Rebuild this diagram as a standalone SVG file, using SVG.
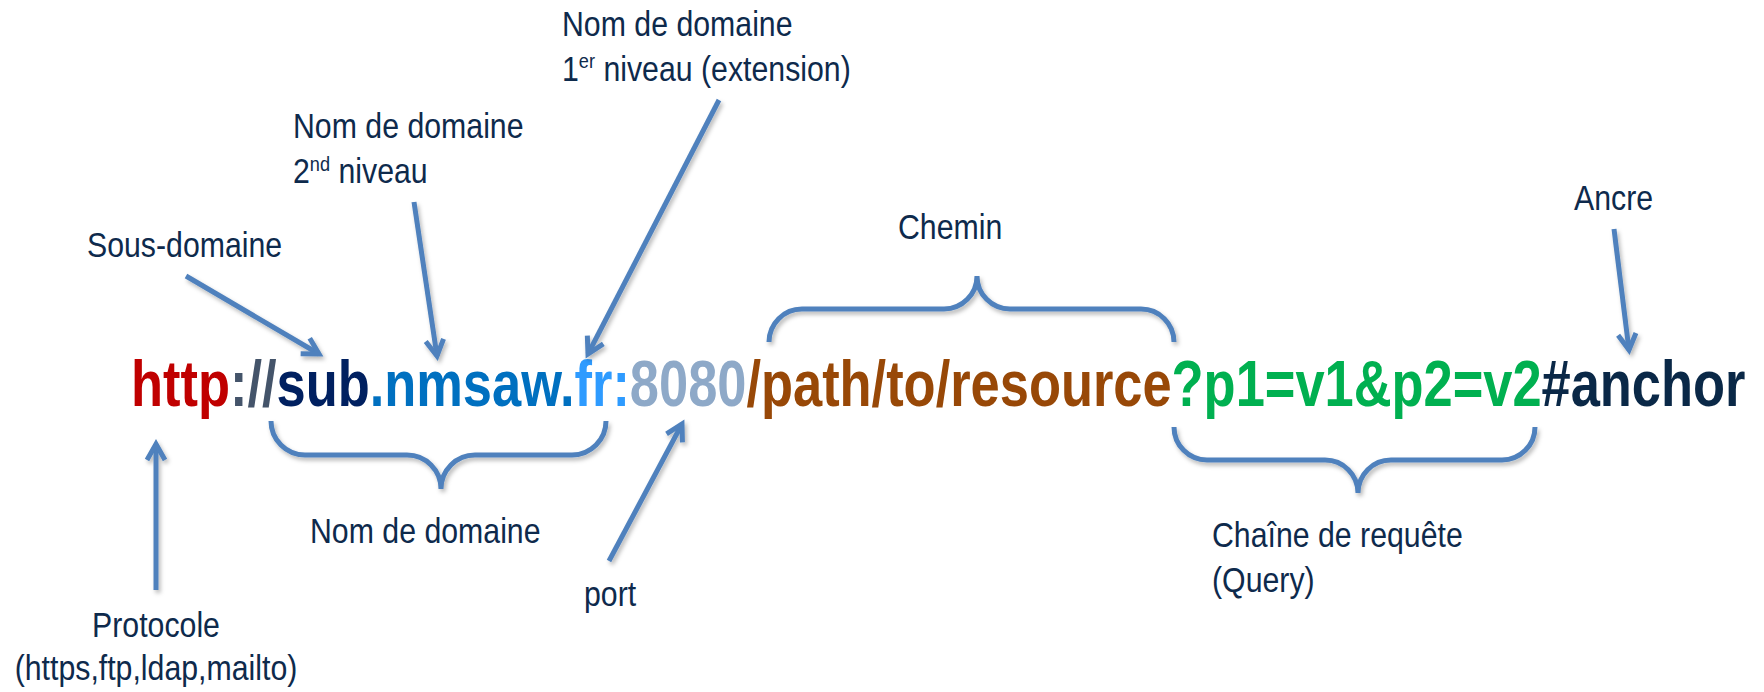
<svg xmlns="http://www.w3.org/2000/svg" width="1764" height="692" viewBox="0 0 1764 692">
<style>
.lbl{font-family:"Liberation Sans",Arial,sans-serif;font-size:35px;fill:#0E2A4C}
.sup{font-size:21px}
.url{font-family:"Liberation Sans",Arial,sans-serif;font-size:64px;font-weight:bold}
.ln{fill:none;stroke:#4F81BD;stroke-width:5}
.arr{marker-end:url(#ah)}
</style>
<defs>
<filter id="sh" x="-10%" y="-10%" width="130%" height="140%">
<feDropShadow dx="2" dy="3" stdDeviation="2" flood-color="#000" flood-opacity="0.28"/>
</filter>
<marker id="ah" markerUnits="userSpaceOnUse" viewBox="0 0 24 24" markerWidth="24" markerHeight="24" refX="20" refY="12" orient="auto" overflow="visible">
<path d="M4,3 L20,12 L4,21" fill="none" stroke="#4F81BD" stroke-width="5"/>
</marker>
</defs>
<rect width="1764" height="692" fill="#fff"/>

<g id="url" transform="translate(131,406) scale(0.819,1)">
<text class="url" x="0" y="0"><tspan fill="#C00000">http</tspan><tspan fill="#44546A">://</tspan><tspan fill="#002060">sub</tspan><tspan fill="#0070C0">.nmsaw.</tspan><tspan fill="#2E9BFF">fr:</tspan><tspan fill="#8EA9C8">8080</tspan><tspan fill="#984807">/path/to/resource</tspan><tspan fill="#00B050">?p1=v1&amp;p2=v2</tspan><tspan fill="#0A2847">#anchor</tspan></text>
</g>

<g id="tld" transform="translate(562,0) scale(0.865,1)">
<text class="lbl" x="0" y="36">Nom de domaine</text>
<text class="lbl" x="0" y="81">1<tspan class="sup" dy="-13">er</tspan><tspan dy="13"> niveau (extension)</tspan></text>
</g>
<g id="sld" transform="translate(293,0) scale(0.865,1)">
<text class="lbl" x="0" y="138">Nom de domaine</text>
<text class="lbl" x="0" y="183">2<tspan class="sup" dy="-12">nd</tspan><tspan dy="12"> niveau</tspan></text>
</g>
<g id="sous" transform="translate(87,257) scale(0.865,1)">
<text class="lbl" x="0" y="0">Sous-domaine</text>
</g>
<g id="chemin" transform="translate(898,239) scale(0.865,1)">
<text class="lbl" x="0" y="0">Chemin</text>
</g>
<g id="ancre" transform="translate(1574,210) scale(0.865,1)">
<text class="lbl" x="0" y="0">Ancre</text>
</g>
<g id="domaine" transform="translate(310,543) scale(0.865,1)">
<text class="lbl" x="0" y="0">Nom de domaine</text>
</g>
<g id="port" transform="translate(584,606) scale(0.865,1)">
<text class="lbl" x="0" y="0">port</text>
</g>
<g id="protocole" transform="translate(156,0) scale(0.865,1)">
<text class="lbl" x="0" y="637" text-anchor="middle">Protocole</text>
<text class="lbl" x="0" y="680" text-anchor="middle">(https,ftp,ldap,mailto)</text>
</g>
<g id="query" transform="translate(1212,0) scale(0.865,1)">
<text class="lbl" x="0" y="547">Chaîne de requête</text>
<text class="lbl" x="0" y="592">(Query)</text>
</g>

<g id="connectors" filter="url(#sh)">
<path class="ln" d="M769,342 A33,33 0 0 1 802,309 L944,309 A33,33 0 0 0 977,276 A33,33 0 0 0 1010,309 L1141,309 A33,33 0 0 1 1174,342"/>
<path class="ln" d="M271,421 A34,34 0 0 0 305,455 L407,455 A34,34 0 0 1 441,489 A34,34 0 0 1 475,455 L572,455 A34,34 0 0 0 606,421"/>
<path class="ln" d="M1174,427 A33,33 0 0 0 1207,460 L1325,460 A33,33 0 0 1 1358,493 A33,33 0 0 1 1391,460 L1502,460 A33,33 0 0 0 1535,427"/>
<line class="ln arr" x1="186" y1="276" x2="319" y2="354"/>
<line class="ln arr" x1="414" y1="202" x2="437" y2="356"/>
<line class="ln arr" x1="719" y1="100" x2="588" y2="354"/>
<line class="ln arr" x1="1614" y1="229" x2="1629" y2="350"/>
<line class="ln arr" x1="156" y1="590" x2="156" y2="444"/>
<line class="ln arr" x1="609" y1="561" x2="682" y2="424"/>
</g>
</svg>
